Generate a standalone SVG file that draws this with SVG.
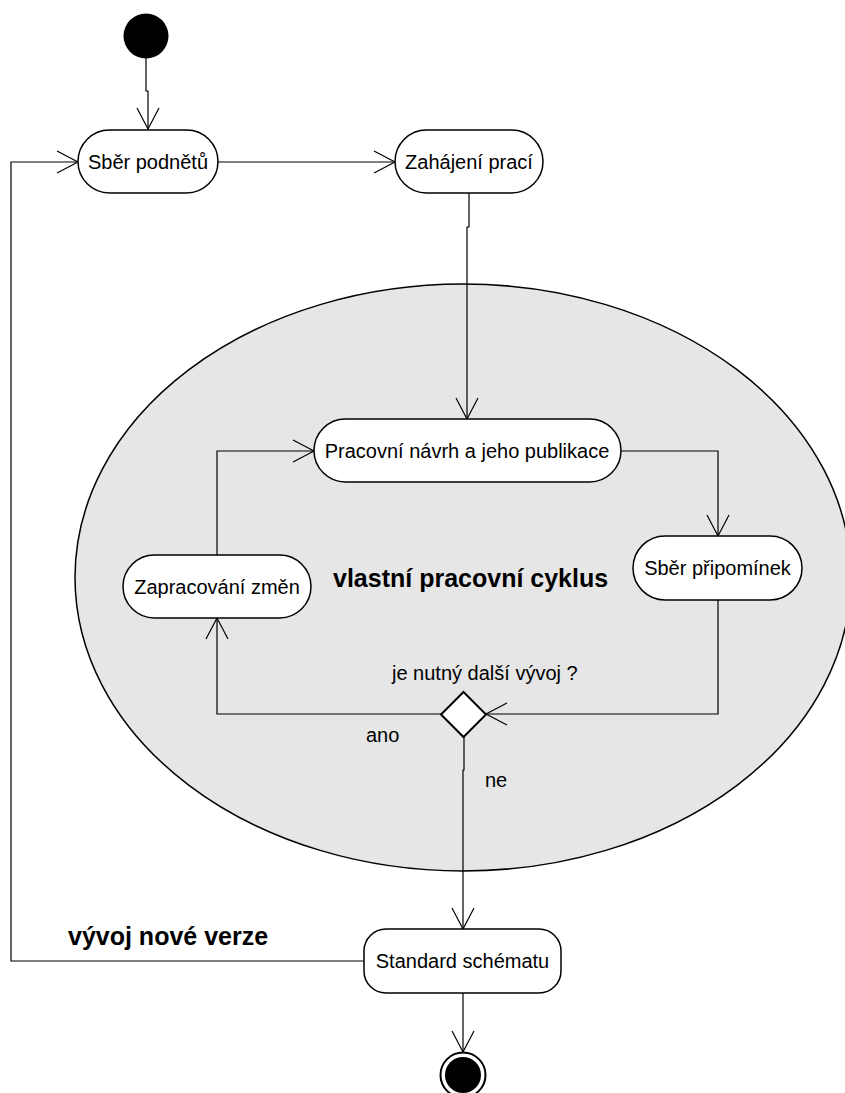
<svg xmlns="http://www.w3.org/2000/svg" width="845" height="1093" viewBox="0 0 845 1093">
<style>
.node{fill:#fff;stroke:#000;stroke-width:1.5}
.t{font-family:"Liberation Sans",Arial,sans-serif;font-size:20px;fill:#000}
.b{font-family:"Liberation Sans",Arial,sans-serif;font-size:25px;font-weight:bold;fill:#000}
.c{fill:none;stroke:#000;stroke-width:1.2}
</style>
<defs>
<marker id="arr" markerUnits="userSpaceOnUse" markerWidth="30" markerHeight="30" viewBox="-25 -15 30 30" refX="0" refY="0" orient="auto">
<path d="M-21 -11 L0 0 L-21 11" fill="none" stroke="#000" stroke-width="1.2"/>
</marker>
</defs>
<rect width="845" height="1093" fill="#fff"/>
<g id="cycle">
<ellipse cx="463" cy="577.5" rx="388" ry="293.5" fill="#e6e6e6" stroke="#000" stroke-width="1.5"/>
<text class="b" x="333" y="587">vlastní pracovní cyklus</text>
</g>
<g id="connectors">
<path class="c" d="M146 58 V91 H148 V129" marker-end="url(#arr)"/>
<path class="c" d="M218 162 H395" marker-end="url(#arr)"/>
<path class="c" d="M469 193 V227 H467 V419" marker-end="url(#arr)"/>
<path class="c" d="M621 451 H718 V536" marker-end="url(#arr)"/>
<path class="c" d="M718 600 V714 H486" marker-end="url(#arr)"/>
<path class="c" d="M441 714 H217 V618" marker-end="url(#arr)"/>
<path class="c" d="M217 555 V451 H314" marker-end="url(#arr)"/>
<path class="c" d="M464 737 V770 H463 V929" marker-end="url(#arr)"/>
<path class="c" d="M463 993 V1052" marker-end="url(#arr)"/>
<path class="c" d="M364 961 H11 V162 H78" marker-end="url(#arr)"/>
<text class="t" x="392" y="680">je nutný další vývoj ?</text>
<text class="t" x="366" y="742">ano</text>
<text class="t" x="485" y="787">ne</text>
<text class="b" x="68" y="945">vývoj nové verze</text>
</g>
<g id="start">
<circle cx="146" cy="36" r="22.5" fill="#000"/>
</g>
<g id="sber-podnetu">
<rect class="node" x="78" y="130" width="140" height="63" rx="31.5"/>
<text class="t" x="148" y="169" text-anchor="middle">Sběr podnětů</text>
</g>
<g id="zahajeni-praci">
<rect class="node" x="395" y="130" width="148" height="63" rx="31.5"/>
<text class="t" x="469" y="169" text-anchor="middle">Zahájení prací</text>
</g>
<g id="pracovni-navrh">
<rect class="node" x="314" y="419" width="307" height="63" rx="31.5"/>
<text class="t" x="467" y="458" text-anchor="middle">Pracovní návrh a jeho publikace</text>
</g>
<g id="sber-pripominek">
<rect class="node" x="633" y="536" width="169" height="64" rx="32"/>
<text class="t" x="717.5" y="575" text-anchor="middle">Sběr připomínek</text>
</g>
<g id="zapracovani-zmen">
<rect class="node" x="123" y="555" width="188" height="63" rx="31.5"/>
<text class="t" x="217" y="594" text-anchor="middle">Zapracování změn</text>
</g>
<g id="decision">
<polygon points="463.5,692 486,714.5 463.5,737 441,714.5" fill="#fff" stroke="#000" stroke-width="2"/>
</g>
<g id="standard-schematu">
<rect class="node" x="364" y="929" width="197" height="64" rx="22"/>
<text class="t" x="462.5" y="968" text-anchor="middle">Standard schématu</text>
</g>
<g id="end">
<circle cx="463" cy="1075" r="22.5" fill="#fff" stroke="#000" stroke-width="2"/>
<circle cx="463" cy="1075" r="18" fill="#000"/>
</g>
</svg>
